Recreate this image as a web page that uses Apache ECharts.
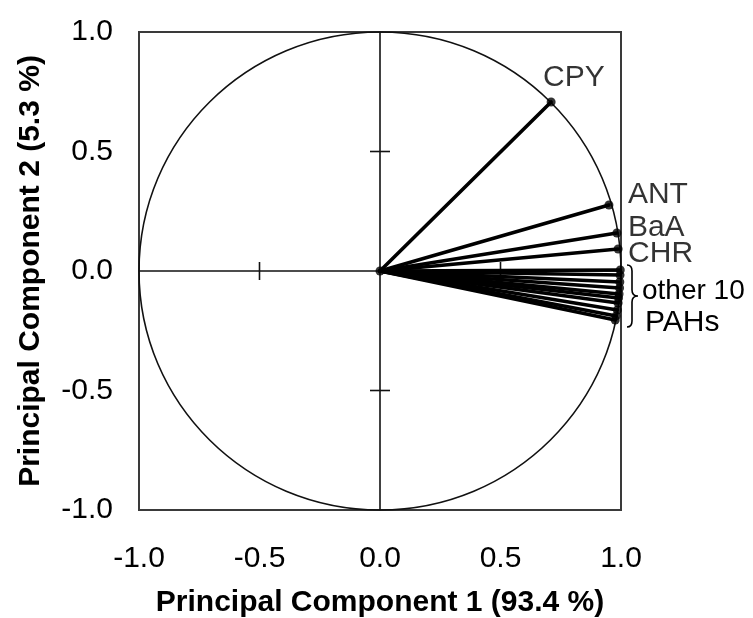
<!DOCTYPE html>
<html><head><meta charset="utf-8">
<script src="https://cdn.jsdelivr.net/npm/echarts@6/dist/echarts.min.js"></script>
<style>html,body{margin:0;padding:0;background:#fff}#c{width:753px;height:618px}</style>
</head><body><div id="c"></div>
<script>
// ---- data ----
const variables = ['CPY','ANT','BaA','CHR','PAH1','PAH2','PAH3','PAH4','PAH5','PAH6','PAH7','PAH8','PAH9','PAH10'];
const labelledVars = ['CPY','ANT','BaA','CHR'];
const pc1 = [0.710, 0.950, 0.983, 0.988, 0.997, 0.996, 0.995, 0.994, 0.992, 0.990, 0.988, 0.985, 0.980, 0.976];
const pc2 = [0.707, 0.276, 0.159, 0.092, 0.004, -0.017, -0.046, -0.071, -0.096, -0.113, -0.134, -0.163, -0.188, -0.205];
const axisTickValues = [-1.0, -0.5, 0.0, 0.5, 1.0];
const groupLabel = ['other 10', 'PAHs'];
const xTitle = 'Principal Component 1 (93.4 %)';
const yTitle = 'Principal Component 2 (5.3 %)';

// ---- styling (label placement offsets, px) ----
const labelOffsets = { CPY: [-8, -24], ANT: [19, -10], BaA: [11, -5], CHR: [10, 5] };
const FONT = '"Liberation Sans", Arial, sans-serif';

const points = pc1.map((x, i) => [x, pc2[i]]);
const others = variables.map((v, i) => i).filter(i => labelledVars.indexOf(variables[i]) < 0);
const otherTop = Math.max(...others.map(i => pc2[i]));
const otherBottom = Math.min(...others.map(i => pc2[i]));
const innerTicks = axisTickValues.filter(v => v !== 0 && Math.abs(v) !== 1);

const chart = echarts.init(document.getElementById('c'), null, { renderer: 'canvas' });

const scatterData = points.map((p, i) => {
  const name = variables[i];
  const item = { value: p, name: name };
  if (labelOffsets[name]) {
    item.label = { show: true, formatter: name, position: 'inside', align: 'left', verticalAlign: 'middle', offset: labelOffsets[name], color: '#000', fontSize: 30, fontFamily: FONT };
  }
  return item;
});

chart.setOption({
  animation: false,
  backgroundColor: '#fff',
  textStyle: { fontFamily: FONT },
  grid: { left: 139, top: 32, width: 482, height: 478, show: true, borderColor: '#3a3a3a', borderWidth: 2, backgroundColor: 'transparent', containLabel: false, outerBoundsMode: 'none' },
  xAxis: {
    type: 'value', min: -1, max: 1, interval: 0.5,
    axisLine: { show: false }, axisTick: { show: false }, splitLine: { show: false },
    axisLabel: { fontSize: 30, color: '#000', margin: 34, fontFamily: FONT, showMinLabel: true, showMaxLabel: true, formatter: v => v.toFixed(1) },
    name: xTitle, nameLocation: 'middle', nameGap: 78,
    nameTextStyle: { fontSize: 30, fontWeight: 'bold', color: '#000', fontFamily: FONT }
  },
  yAxis: {
    type: 'value', min: -1, max: 1, interval: 0.5,
    axisLine: { show: false }, axisTick: { show: false }, splitLine: { show: false },
    axisLabel: { fontSize: 30, color: '#000', margin: 26, fontFamily: FONT, showMinLabel: true, showMaxLabel: true, formatter: v => v.toFixed(1) },
    name: yTitle, nameLocation: 'middle', nameGap: 93, nameRotate: 90,
    nameTextStyle: { fontSize: 30, fontWeight: 'bold', color: '#000', fontFamily: FONT }
  },
  series: [
    {
      // unit circle, zero lines and crossing ticks
      type: 'custom', silent: true, z: 1, clip: false,
      data: [[0, 0]],
      renderItem: function (params, api) {
        const o = api.coord([0, 0]);
        const r = api.coord([1, 0]);
        const l = api.coord([-1, 0]);
        const t = api.coord([0, 1]);
        const b = api.coord([0, -1]);
        const children = [
          { type: 'ellipse', shape: { cx: o[0], cy: o[1], rx: r[0] - o[0], ry: o[1] - t[1] }, style: { fill: 'none', stroke: '#111', lineWidth: 1.6 } },
          { type: 'line', shape: { x1: l[0], y1: o[1], x2: r[0], y2: o[1] }, style: { stroke: '#111', lineWidth: 1.6 } },
          { type: 'line', shape: { x1: o[0], y1: t[1], x2: o[0], y2: b[1] }, style: { stroke: '#111', lineWidth: 1.6 } }
        ];
        innerTicks.forEach(v => {
          const px = api.coord([v, 0]);
          children.push({ type: 'line', shape: { x1: px[0], y1: px[1] - 9, x2: px[0], y2: px[1] + 9 }, style: { stroke: '#111', lineWidth: 1.6 } });
          const py = api.coord([0, v]);
          children.push({ type: 'line', shape: { x1: py[0] - 10, y1: py[1], x2: py[0] + 10, y2: py[1] }, style: { stroke: '#111', lineWidth: 1.6 } });
        });
        return { type: 'group', children: children };
      }
    },
    {
      // loading vectors
      type: 'custom', silent: true, z: 2,
      data: points,
      renderItem: function (params, api) {
        const o = api.coord([0, 0]);
        const p = api.coord([api.value(0), api.value(1)]);
        return { type: 'line', shape: { x1: o[0], y1: o[1], x2: p[0], y2: p[1] }, style: { stroke: '#000', lineWidth: 3.6, lineCap: 'round' } };
      }
    },
    {
      type: 'scatter', z: 3, symbol: 'circle', symbolSize: 9,
      itemStyle: { color: '#000' },
      label: { show: false, fontSize: 30, color: '#000', fontFamily: FONT },
      data: scatterData
    },
    {
      type: 'scatter', z: 3, symbol: 'circle', symbolSize: 9,
      itemStyle: { color: '#000' },
      data: [[0, 0]]
    },
    {
      // brace + group label for the other 10 PAHs
      type: 'custom', silent: true, z: 4, clip: false,
      data: [[1, otherTop, otherBottom]],
      renderItem: function (params, api) {
        const top = api.coord([api.value(0), api.value(1)]);
        const bot = api.coord([api.value(0), api.value(2)]);
        const x0 = top[0] + 6;
        const yt = top[1] - 5, yb = bot[1] + 7;
        const ym = (yt + yb) / 2;
        const xm = x0 + 5, xt = x0 + 11;
        const d = 'M' + x0 + ' ' + yt + ' Q' + xm + ' ' + yt + ' ' + xm + ' ' + (yt + 6) +
          ' L' + xm + ' ' + (ym - 6) + ' Q' + xm + ' ' + ym + ' ' + xt + ' ' + ym +
          ' Q' + xm + ' ' + ym + ' ' + xm + ' ' + (ym + 6) +
          ' L' + xm + ' ' + (yb - 6) + ' Q' + xm + ' ' + yb + ' ' + x0 + ' ' + yb;
        return {
          type: 'group',
          children: [
            { type: 'path', shape: { pathData: d }, style: { fill: 'none', stroke: '#000', lineWidth: 1.6 } },
            { type: 'text', style: { text: groupLabel[0], x: x0 + 15, y: ym - 5, font: '28px ' + FONT, fill: '#000', align: 'left', verticalAlign: 'middle' } },
            { type: 'text', style: { text: groupLabel[1], x: x0 + 18, y: ym + 27, font: '30px ' + FONT, fill: '#000', align: 'left', verticalAlign: 'middle' } }
          ]
        };
      }
    }
  ]
});
</script>
</body></html>
